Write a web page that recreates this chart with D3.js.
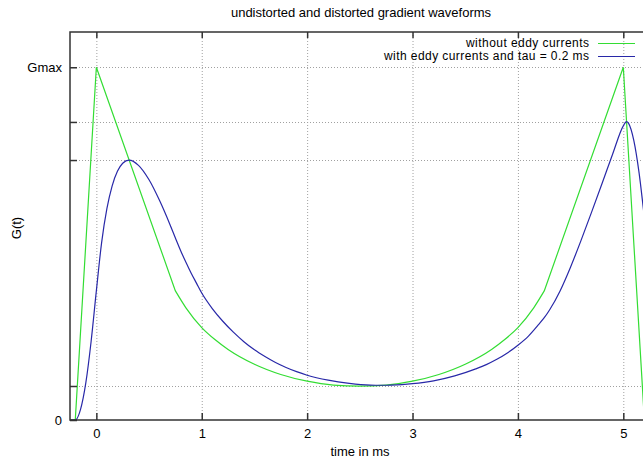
<!DOCTYPE html>
<html>
<head>
<meta charset="utf-8">
<script src="https://cdn.jsdelivr.net/npm/d3@7"></script>
<style>
    body { margin: 0; background: #fff; }
    svg { display: block; font-family: "Liberation Sans", Arial, sans-serif; }
</style>
</head>
<body>
<div id="chart-container"></div>
<script>
// time in ms, G in units of Gmax
// undistorted waveform: straight ramps plus a curved middle part
const greenRampUpT = [-0.25, -0.2, 0, 0.75];
const greenRampUpG = [0, 0, 1, 0.366];
const greenMidT = [0.75, 0.85, 1.0, 1.125, 1.25, 1.5, 1.75, 2.0, 2.25, 2.5, 2.75, 3.0, 3.25, 3.5, 3.75, 3.875, 4.0, 4.15, 4.25];
const greenMidG = [0.366, 0.318, 0.262, 0.228, 0.2, 0.158, 0.129, 0.11, 0.099, 0.096, 0.099, 0.11, 0.129, 0.158, 0.2, 0.228, 0.262, 0.318, 0.366];
const greenRampDownT = [4.25, 5.0, 5.2, 5.5];
const greenRampDownG = [0.366, 1, 0, 0];

// distorted waveform (eddy currents, tau = 0.2 ms)
const blueT = [-0.25, -0.2, -0.15, -0.1, -0.05, 0, 0.05, 0.1, 0.15, 0.2, 0.25, 0.31, 0.4, 0.5, 0.6, 0.7, 0.75, 0.8, 0.85, 0.9, 0.95, 1.0, 1.1, 1.2, 1.3, 1.4, 1.5, 1.6, 1.7, 1.8, 1.9, 2.0, 2.2, 2.4, 2.6, 2.7, 2.8, 3.0, 3.2, 3.4, 3.6, 3.7, 3.8, 3.9, 4.0, 4.1, 4.2, 4.25, 4.3, 4.4, 4.5, 4.6, 4.7, 4.8, 4.9, 5.0, 5.03, 5.05, 5.1, 5.15, 5.2, 5.3, 5.4, 5.5];
const blueG = [0, 0, 0.03, 0.105, 0.222, 0.366, 0.503, 0.599, 0.664, 0.705, 0.728, 0.737, 0.722, 0.681, 0.622, 0.553, 0.516, 0.48, 0.447, 0.416, 0.388, 0.36, 0.316, 0.28, 0.249, 0.222, 0.199, 0.18, 0.163, 0.149, 0.137, 0.127, 0.113, 0.104, 0.099, 0.0985, 0.099, 0.103, 0.111, 0.125, 0.145, 0.157, 0.172, 0.19, 0.212, 0.238, 0.272, 0.29, 0.312, 0.366, 0.434, 0.51, 0.59, 0.672, 0.755, 0.834, 0.846, 0.841, 0.792, 0.7, 0.575, 0.35, 0.21, 0.127];

const xTicks = [0, 1, 2, 3, 4, 5];
const yTicks = [0, 0.0964, 0.737, 0.845, 1];
const yTickLabels = ["0", "", "", "", "Gmax"];

const seriesNames = ["without eddy currents", "with eddy currents and tau = 0.2 ms"];
const seriesColors = ["#33dd33", "#2828a8"];
const legendTextWidths = [123, 205];

const width = 643;
const height = 464;
const margin = {top: 32, right: -33, bottom: 44, left: 70};
const innerW = width - margin.left - margin.right;
const innerH = height - margin.top - margin.bottom;
const fontSize = "13px";

const svg = d3.select("#chart-container")
    .append("svg")
    .attr("width", width)
    .attr("height", height);

const g = svg.append("g")
    .attr("transform", `translate(${margin.left},${margin.top})`);

const x = d3.scaleLinear().domain([-0.25, 5.5]).range([0, innerW]);
const y = d3.scaleLinear().domain([0, 1.1]).range([innerH, 0]);

// grid
g.append("g")
    .selectAll("line")
    .data(xTicks)
    .join("line")
    .attr("x1", d => x(d) + 0.5).attr("x2", d => x(d) + 0.5)
    .attr("y1", 0).attr("y2", innerH)
    .attr("stroke", "#a0a0a0")
    .attr("stroke-dasharray", "1,2");

g.append("g")
    .selectAll("line")
    .data(yTicks.slice(1))
    .join("line")
    .attr("x1", 0).attr("x2", width - margin.left)
    .attr("y1", d => Math.round(y(d)) + 0.5).attr("y2", d => Math.round(y(d)) + 0.5)
    .attr("stroke", "#a0a0a0")
    .attr("stroke-dasharray", "1,2");

// curves
svg.append("clipPath").attr("id", "clip")
    .append("rect").attr("width", width - margin.left).attr("height", innerH);

const zip = (ts, gs) => ts.map((t, i) => [t, gs[i]]);
const straight = d3.line().x(d => x(d[0])).y(d => y(d[1]));
const smooth = d3.line().x(d => x(d[0])).y(d => y(d[1])).curve(d3.curveMonotoneX);

const plot = g.append("g").attr("clip-path", "url(#clip)");
const greenPath = straight(zip(greenRampUpT, greenRampUpG))
    + smooth(zip(greenMidT, greenMidG)).replace(/^M/, "L")
    + straight(zip(greenRampDownT, greenRampDownG)).replace(/^M/, "L");
plot.append("path")
    .attr("d", greenPath)
    .attr("fill", "none")
    .attr("stroke", seriesColors[0])
    .attr("stroke-width", 1.2);
plot.append("path")
    .attr("d", smooth(zip(blueT, blueG)))
    .attr("fill", "none")
    .attr("stroke", seriesColors[1])
    .attr("stroke-width", 1.2);

// axes (gnuplot style: inward ticks, mirrored on top)
const axisColor = "#333";
const xBottom = g.append("g")
    .attr("transform", `translate(0,${innerH})`)
    .call(d3.axisBottom(x).tickValues(xTicks).tickSizeInner(-7).tickSizeOuter(0).tickPadding(9)
        .tickFormat(d3.format("d")));
const xTop = g.append("g")
    .call(d3.axisTop(x).tickValues(xTicks).tickSizeInner(-6).tickSizeOuter(0).tickFormat(""));
const yLeft = g.append("g")
    .call(d3.axisLeft(y).tickValues(yTicks).tickSizeInner(-7).tickSizeOuter(0).tickPadding(8)
        .tickFormat((d, i) => yTickLabels[i]));

[xBottom, xTop, yLeft].forEach(a => {
    a.select(".domain").remove();
    a.selectAll(".tick line").attr("stroke", axisColor).attr("stroke-width", 1.5);
    a.selectAll(".tick text").attr("fill", "#000").style("font-size", fontSize)
        .style("font-family", "'Liberation Sans', Arial, sans-serif");
});

// border: left, bottom, top
g.append("path")
    .attr("d", `M${width - margin.left},0H0V${innerH}H${width - margin.left}`)
    .attr("fill", "none")
    .attr("stroke", axisColor)
    .attr("stroke-width", 1.5);

// titles
svg.append("text")
    .attr("x", 361).attr("y", 17)
    .attr("text-anchor", "middle")
    .style("font-size", fontSize)
    .text("undistorted and distorted gradient waveforms");

svg.append("text")
    .attr("x", 360).attr("y", 456)
    .attr("text-anchor", "middle")
    .style("font-size", fontSize)
    .text("time in ms");

svg.append("text")
    .attr("transform", "translate(21,228) rotate(-90)")
    .attr("text-anchor", "middle")
    .style("font-size", fontSize)
    .text("G(t)");

// legend (tight rows, as in the original)
const legend = svg.append("g");
seriesNames.forEach((name, i) => {
    const ly = 43.5 + i * 13;
    legend.append("text")
        .attr("x", 589).attr("y", ly + 3.5)
        .attr("text-anchor", "end")
        .attr("textLength", legendTextWidths[i])
        .attr("lengthAdjust", "spacing")
        .style("font-size", "12px")
        .text(name);
    legend.append("line")
        .attr("x1", 598).attr("x2", 635)
        .attr("y1", ly).attr("y2", ly)
        .attr("stroke", seriesColors[i])
        .attr("stroke-width", 1.2);
});
</script>
</body>
</html>
